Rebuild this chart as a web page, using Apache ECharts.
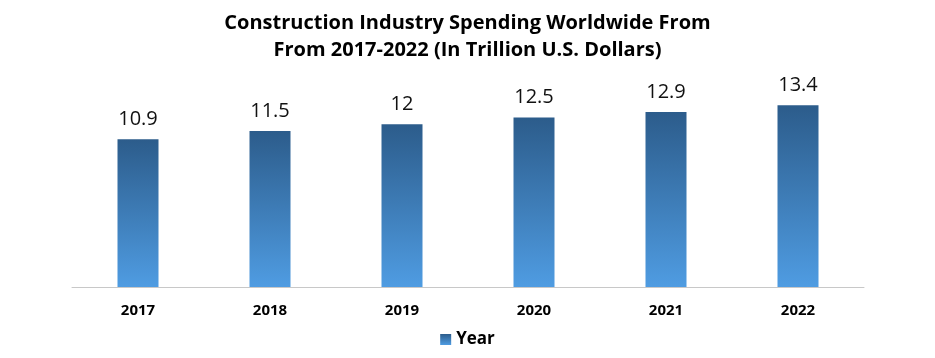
<!DOCTYPE html>
<html><head><meta charset="utf-8">
<script src="https://cdn.jsdelivr.net/npm/echarts@6/dist/echarts.min.js"></script>
<style>html,body{margin:0;padding:0;background:#fff}#c{width:935px;height:358px}</style>
</head><body><div id="c"></div>
<script>
const titleLines = ["Construction Industry Spending Worldwide From", "From 2017-2022 (In Trillion U.S. Dollars)"];
const categories = ["2017", "2018", "2019", "2020", "2021", "2022"];
const values = [10.9, 11.5, 12, 12.5, 12.9, 13.4];
const seriesName = "Year";

const grad = new echarts.graphic.LinearGradient(0, 0, 0, 1, [
  {offset: 0, color: '#2c5c8b'},
  {offset: 1, color: '#4f9ce2'}
]);
const chart = echarts.init(document.getElementById('c'));
chart.setOption({
  animation: false,
  title: {
    text: titleLines.join('\n'),
    left: 'center', top: 5,
    textStyle: {fontFamily: 'Open Sans', fontWeight: 'bold', fontSize: 20, color: '#000', lineHeight: 27}
  },
  legend: {
    data: [{name: seriesName, icon: 'rect'}],
    bottom: 5, left: 'center',
    itemWidth: 11, itemHeight: 11, itemGap: 6,
    textStyle: {fontFamily: 'Open Sans', fontWeight: 'bold', fontSize: 17, color: '#000'}
  },
  grid: {left: 72, right: 71, top: 70, bottom: 71, containLabel: false},
  xAxis: {
    type: 'category', data: categories,
    axisLine: {show: true, lineStyle: {color: '#c8c8c8', width: 1}},
    axisTick: {show: false},
    axisLabel: {fontFamily: 'Open Sans', fontWeight: 'bold', fontSize: 15, color: '#000', margin: 16}
  },
  yAxis: {type: 'value', min: 0, max: 16, show: false, splitLine: {show: false}},
  series: [{
    name: seriesName, type: 'bar', data: values, barWidth: 41,
    itemStyle: {color: grad},
    label: {show: true, position: 'top', distance: 10, fontFamily: 'Open Sans', fontSize: 20, color: '#111'}
  }]
});
</script></body></html>
